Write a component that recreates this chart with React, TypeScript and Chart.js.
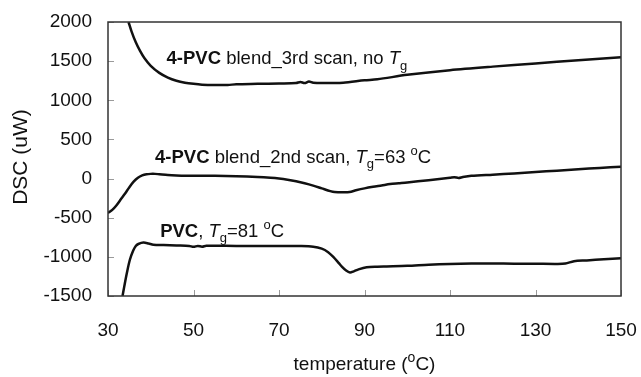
import React, { useEffect, useRef } from "react";
import { Chart, registerables } from "chart.js";

Chart.register(...registerables);

// ---- data ----
const pvcT = [33.4, 33.8, 34.4, 35.1, 35.9, 36.5, 37.1, 38.3, 39.5, 40.6, 43, 46, 49, 50, 51, 52, 53, 55, 60, 65, 70, 75, 78, 80, 81.5, 82.7, 84, 84.7, 85.7, 86.6, 87.5, 88.6, 90.5, 93, 95.2, 100, 105, 110, 115, 120, 125, 130, 135, 137, 139, 142, 146, 150];
const pvcV = [-1500, -1380, -1210, -1040, -920, -860, -836, -818, -830, -845, -850, -855, -860, -872, -860, -870, -858, -858, -860, -860, -860, -862, -870, -895, -940, -1000, -1080, -1125, -1175, -1200, -1185, -1160, -1133, -1125, -1122, -1115, -1100, -1090, -1085, -1085, -1087, -1088, -1090, -1085, -1055, -1045, -1030, -1018];

const scan2T = [30, 31, 32, 33, 34, 35, 36, 37, 38, 39, 40, 41, 42, 44, 46, 50, 55, 60, 65, 68, 70, 72, 74, 76, 78, 80, 82, 83, 85, 86.5, 88, 90, 92, 94, 96, 98, 100, 105, 110, 111, 112, 113, 115, 120, 125, 130, 135, 140, 145, 150];
const scan2V = [-440, -400, -340, -265, -190, -110, -40, 10, 40, 55, 60, 60, 55, 45, 40, 35, 35, 30, 20, 10, 0, -15, -35, -60, -90, -125, -160, -172, -175, -172, -150, -125, -105, -88, -70, -60, -50, -20, 10, 18, 8, 20, 35, 50, 65, 85, 100, 120, 135, 152];

const scan3T = [34.8, 35.5, 36.5, 37.5, 38.5, 40, 42, 44, 46, 48, 50, 52, 55, 58, 60, 65, 70, 74, 75, 76, 77, 78, 80, 85, 90, 93, 100, 110, 120, 130, 140, 150];
const scan3V = [2000, 1880, 1740, 1630, 1540, 1440, 1350, 1290, 1250, 1225, 1210, 1200, 1195, 1195, 1205, 1210, 1215, 1220, 1235, 1220, 1240, 1225, 1220, 1225, 1255, 1268, 1325, 1385, 1430, 1470, 1512, 1549];

const xTicks = [30, 50, 70, 90, 110, 130, 150];
const yTicks = [-1500, -1000, -500, 0, 500, 1000, 1500, 2000];

const xTitle = "temperature (";
const yTitle = "DSC (uW)";

type Seg = { t: string; b?: boolean; i?: boolean; sub?: boolean; sup?: boolean };

const annotations: { x: number; y: number; segs: Seg[] }[] = [
  {
    x: 43.7,
    y: 1464,
    segs: [
      { t: "4-PVC", b: true },
      { t: " blend_3rd scan, no " },
      { t: "T", i: true },
      { t: "g", sub: true },
    ],
  },
  {
    x: 41,
    y: 203,
    segs: [
      { t: "4-PVC", b: true },
      { t: " blend_2nd scan, " },
      { t: "T", i: true },
      { t: "g", sub: true },
      { t: "=63 " },
      { t: "o", sup: true },
      { t: "C" },
    ],
  },
  {
    x: 42.2,
    y: -742,
    segs: [
      { t: "PVC", b: true },
      { t: ", " },
      { t: "T", i: true },
      { t: "g", sub: true },
      { t: "=81 " },
      { t: "o", sup: true },
      { t: "C" },
    ],
  },
];

const FONT = '"Liberation Sans", Arial, Helvetica, sans-serif';

function toPts(xs: number[], ys: number[]) {
  return xs.map((x, i) => ({ x, y: ys[i] }));
}

function richWidth(ctx: CanvasRenderingContext2D, segs: Seg[], size: number) {
  let w = 0;
  for (const s of segs) {
    const sz = s.sub || s.sup ? Math.round(size * 0.72) : size;
    ctx.font = `${s.i ? "italic " : ""}${s.b ? "bold " : ""}${sz}px ${FONT}`;
    w += ctx.measureText(s.t).width;
  }
  return w;
}

function drawRich(ctx: CanvasRenderingContext2D, segs: Seg[], x: number, y: number, size: number) {
  let cx = x;
  for (const s of segs) {
    const sz = s.sub || s.sup ? Math.round(size * 0.72) : size;
    ctx.font = `${s.i ? "italic " : ""}${s.b ? "bold " : ""}${sz}px ${FONT}`;
    const dy = s.sub ? size * 0.3 : s.sup ? -size * 0.42 : 0;
    ctx.fillText(s.t, cx, y + dy);
    cx += ctx.measureText(s.t).width;
  }
}

const decorPlugin = {
  id: "decor",
  afterDraw(chart: any) {
    const ctx: CanvasRenderingContext2D = chart.ctx;
    const { left, right, top, bottom } = chart.chartArea;
    const xs = chart.scales.x;
    const ys = chart.scales.y;
    ctx.save();
    // ticks (inside)
    ctx.strokeStyle = "#9a9a9a";
    ctx.lineWidth = 1;
    ctx.beginPath();
    for (const v of yTicks) {
      const py = Math.round(ys.getPixelForValue(v)) + 0.5;
      ctx.moveTo(left, py);
      ctx.lineTo(left + 6, py);
    }
    for (const v of xTicks) {
      const px = Math.round(xs.getPixelForValue(v)) + 0.5;
      ctx.moveTo(px, bottom);
      ctx.lineTo(px, bottom - 6);
    }
    ctx.stroke();
    // frame
    ctx.strokeStyle = "#333";
    ctx.lineWidth = 1.5;
    ctx.strokeRect(left, top, right - left, bottom - top);

    // annotations
    ctx.fillStyle = "#111";
    ctx.textBaseline = "alphabetic";
    ctx.textAlign = "left";
    for (const a of annotations) {
      drawRich(ctx, a.segs, xs.getPixelForValue(a.x), ys.getPixelForValue(a.y), 18.5);
    }

    // x title
    const xt: Seg[] = [{ t: xTitle }, { t: "o", sup: true }, { t: "C)" }];
    const w = richWidth(ctx, xt, 19);
    drawRich(ctx, xt, (left + right) / 2 - w / 2, 370, 19);

    // y title
    ctx.translate(21, (top + bottom) / 2 - 2);
    ctx.rotate(-Math.PI / 2);
    ctx.font = `21px ${FONT}`;
    ctx.textAlign = "center";
    ctx.textBaseline = "middle";
    ctx.fillText(yTitle, 0, 0);
    ctx.restore();
  },
};

function zeroPad(s: any) {
  s.paddingLeft = 0;
  s.paddingRight = 0;
  s.paddingTop = 0;
  s.paddingBottom = 0;
}

export default function App() {
  const ref = useRef<HTMLCanvasElement>(null);
  useEffect(() => {
    if (!ref.current) return;
    const lineStyle = {
      borderColor: "#111",
      borderWidth: 2.5,
      pointRadius: 0,
      tension: 0.3,
      fill: false,
    };
    const chart = new Chart(ref.current, {
      type: "line",
      data: {
        datasets: [
          { label: "PVC", data: toPts(pvcT, pvcV), ...lineStyle },
          { label: "4-PVC blend 2nd scan", data: toPts(scan2T, scan2V), ...lineStyle },
          { label: "4-PVC blend 3rd scan", data: toPts(scan3T, scan3V), ...lineStyle },
        ],
      },
      options: {
        animation: false,
        responsive: false,
        maintainAspectRatio: false,
        layout: { padding: { left: 0, right: 20, top: 22, bottom: 0 } },
        plugins: { legend: { display: false }, tooltip: { enabled: false } },
        scales: {
          x: {
            type: "linear",
            min: 30,
            max: 150,
            afterFit: (s: any) => {
              s.height = 81;
              zeroPad(s);
            },
            afterBuildTicks: (s: any) => {
              s.ticks = xTicks.map((v) => ({ value: v }));
            },
            grid: { display: false, drawTicks: false },
            border: { display: false },
            ticks: {
              padding: 23,
              color: "#111",
              font: { family: FONT, size: 19 },
              callback: (v: any) => String(v),
            },
          },
          y: {
            type: "linear",
            min: -1500,
            max: 2000,
            afterFit: (s: any) => {
              s.width = 108;
              zeroPad(s);
            },
            afterBuildTicks: (s: any) => {
              s.ticks = yTicks.map((v) => ({ value: v }));
            },
            grid: { display: false, drawTicks: false },
            border: { display: false },
            ticks: {
              padding: 16,
              color: "#111",
              font: { family: FONT, size: 19 },
              callback: (v: any) => String(v),
            },
          },
        },
      },
      plugins: [decorPlugin],
    });
    return () => chart.destroy();
  }, []);
  return (
    <div style={{ position: "absolute", left: 0, top: 0, width: 641, height: 377, background: "#fff" }}>
      <canvas ref={ref} width={641} height={377} style={{ width: 641, height: 377, display: "block" }} />
    </div>
  );
}
